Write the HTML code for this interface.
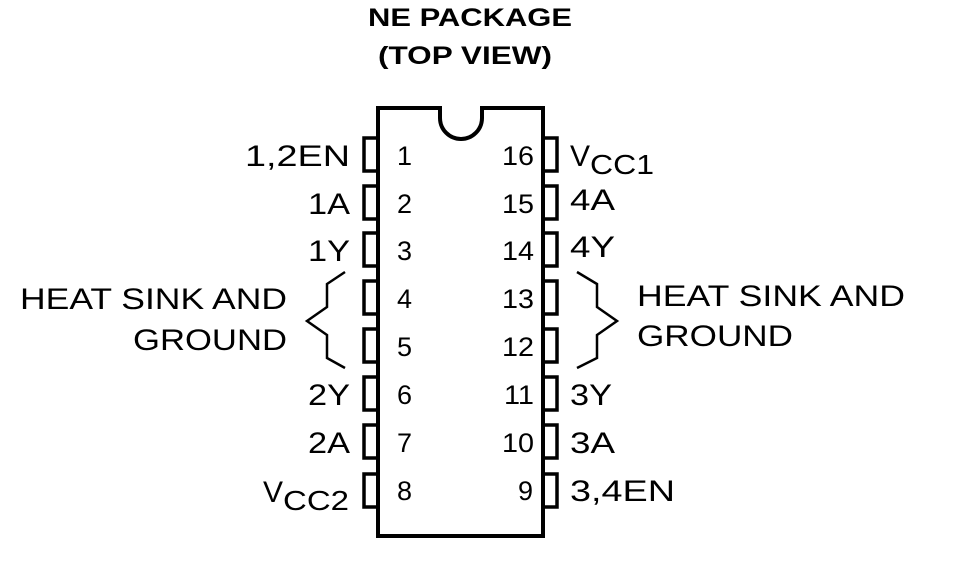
<!DOCTYPE html>
<html><head><style>
body{margin:0;background:#fff;}
svg text{font-family:"Liberation Sans",Arial,sans-serif;fill:#000;}
</style></head><body>
<svg width="960" height="560" viewBox="0 0 960 560" xmlns="http://www.w3.org/2000/svg">
<text x="368" y="26" font-size="25" font-weight="bold" textLength="204" lengthAdjust="spacingAndGlyphs">NE PACKAGE</text>
<text x="378" y="64" font-size="25" font-weight="bold" textLength="174" lengthAdjust="spacingAndGlyphs">(TOP VIEW)</text>
<path d="M378,108 H440 V118 A21,21 0 0 0 482,118 V108 H543 V536 H378 Z" fill="none" stroke="#000" stroke-width="4"/>
<g fill="none" stroke="#000" stroke-width="3.5">
<rect x="364" y="138" width="14" height="33"/><rect x="364" y="186" width="14" height="33"/><rect x="364" y="233" width="14" height="33"/><rect x="364" y="281" width="14" height="33"/><rect x="364" y="329" width="14" height="33"/><rect x="364" y="377" width="14" height="33"/><rect x="364" y="425" width="14" height="33"/><rect x="364" y="474" width="14" height="33"/>
<rect x="543" y="138" width="14" height="33"/><rect x="543" y="186" width="14" height="33"/><rect x="543" y="233" width="14" height="33"/><rect x="543" y="281" width="14" height="33"/><rect x="543" y="329" width="14" height="33"/><rect x="543" y="377" width="14" height="33"/><rect x="543" y="425" width="14" height="33"/><rect x="543" y="474" width="14" height="33"/>
</g>
<g fill="none" stroke="#000" stroke-width="2.5">
<path d="M345,272 L327,284 V307 L307,321 L327,335 V358 L345,368"/>
<path d="M577,272 L597,284 V307 L617,321 L597,335 V358 L577,368"/>
</g>
<g font-size="27">
<text x="397" y="165">1</text><text x="397" y="213">2</text><text x="397" y="260">3</text><text x="397" y="308">4</text><text x="397" y="356">5</text><text x="397" y="404">6</text><text x="397" y="452">7</text><text x="397" y="500">8</text>
<text x="502" y="165" textLength="32" lengthAdjust="spacingAndGlyphs">16</text><text x="502" y="213" textLength="32" lengthAdjust="spacingAndGlyphs">15</text><text x="502" y="260" textLength="32" lengthAdjust="spacingAndGlyphs">14</text><text x="502" y="308" textLength="32" lengthAdjust="spacingAndGlyphs">13</text><text x="502" y="356" textLength="32" lengthAdjust="spacingAndGlyphs">12</text><text x="504" y="404" textLength="30" lengthAdjust="spacingAndGlyphs">11</text><text x="502" y="452" textLength="32" lengthAdjust="spacingAndGlyphs">10</text><text x="518" y="500">9</text>
</g>
<g font-size="30">
<text x="245" y="166" textLength="105" lengthAdjust="spacingAndGlyphs">1,2EN</text>
<text x="308" y="214" textLength="42" lengthAdjust="spacingAndGlyphs">1A</text>
<text x="308" y="261" textLength="42" lengthAdjust="spacingAndGlyphs">1Y</text>
<text x="20" y="309" textLength="267" lengthAdjust="spacingAndGlyphs">HEAT SINK AND</text>
<text x="133" y="350" textLength="154" lengthAdjust="spacingAndGlyphs">GROUND</text>
<text x="308" y="405" textLength="42" lengthAdjust="spacingAndGlyphs">2Y</text>
<text x="308" y="453" textLength="42" lengthAdjust="spacingAndGlyphs">2A</text>
<text x="263" y="502">V<tspan font-size="28" dy="8" textLength="66" lengthAdjust="spacingAndGlyphs">CC2</tspan></text>
<text x="570" y="166">V<tspan font-size="28" dy="8" textLength="64" lengthAdjust="spacingAndGlyphs">CC1</tspan></text>
<text x="570" y="210" textLength="45" lengthAdjust="spacingAndGlyphs">4A</text>
<text x="570" y="257" textLength="45" lengthAdjust="spacingAndGlyphs">4Y</text>
<text x="637" y="306" textLength="268" lengthAdjust="spacingAndGlyphs">HEAT SINK AND</text>
<text x="637" y="346" textLength="156" lengthAdjust="spacingAndGlyphs">GROUND</text>
<text x="570" y="405" textLength="42" lengthAdjust="spacingAndGlyphs">3Y</text>
<text x="570" y="453" textLength="45" lengthAdjust="spacingAndGlyphs">3A</text>
<text x="570" y="501" textLength="105" lengthAdjust="spacingAndGlyphs">3,4EN</text>
</g>
</svg>
</body></html>
